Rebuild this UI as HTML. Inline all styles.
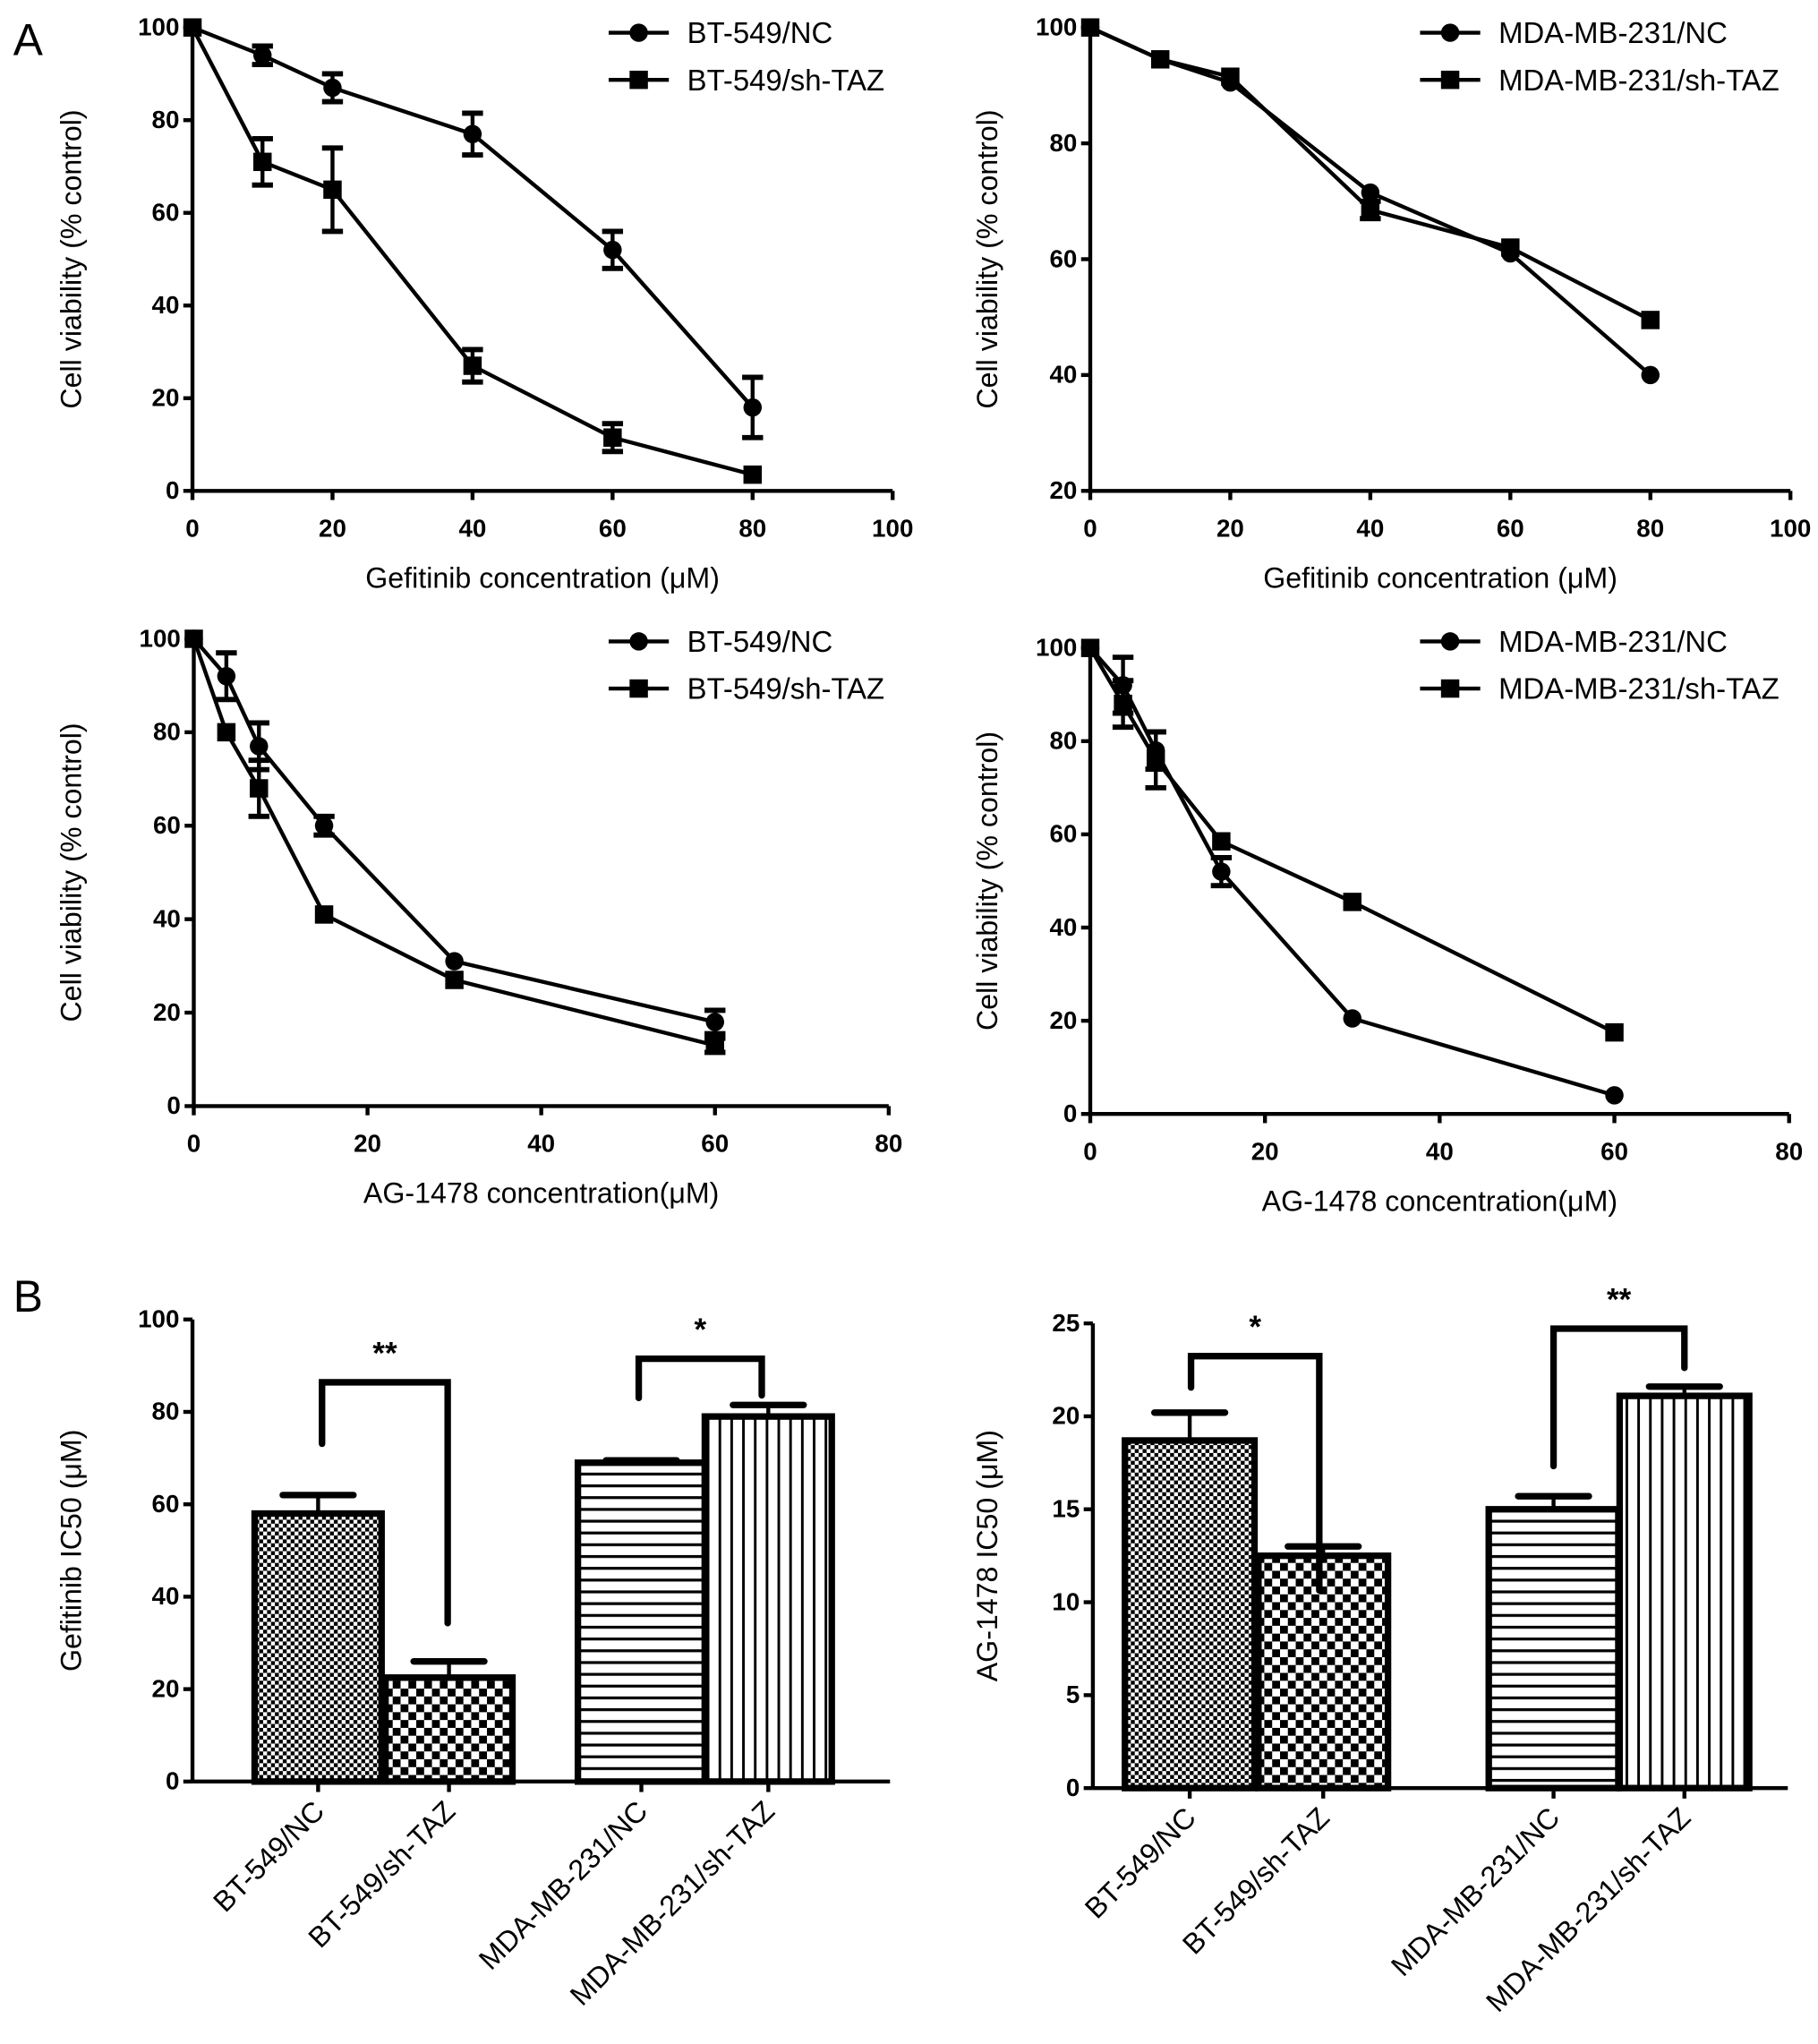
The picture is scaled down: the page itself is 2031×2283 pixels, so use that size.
<!DOCTYPE html>
<html><head><meta charset="utf-8"><style>
html,body{margin:0;padding:0;background:#fff}
svg{display:block}
text{font-family:"Liberation Sans",Arial,sans-serif;fill:#000}
.tk{font-weight:bold;font-size:19px}
.tt{font-size:22px}
.lg{font-size:22.5px}
</style></head><body>
<svg id="fig" width="2031" height="2283" viewBox="0 0 1389 1561.5" xmlns="http://www.w3.org/2000/svg">
<defs>
<pattern id="pCheckFine" width="6" height="6" patternUnits="userSpaceOnUse"><rect width="6" height="6" fill="#fff"/><rect width="3" height="3" fill="#000"/><rect x="3" y="3" width="3" height="3" fill="#000"/></pattern>
<pattern id="pCheck" width="12" height="12" patternUnits="userSpaceOnUse"><rect width="12" height="12" fill="#fff"/><rect width="6" height="6" fill="#000"/><rect x="6" y="6" width="6" height="6" fill="#000"/></pattern>
<pattern id="pHoriz" width="10" height="9" patternUnits="userSpaceOnUse"><rect width="10" height="9" fill="#fff"/><rect y="0" width="10" height="2.2" fill="#000"/></pattern>
<pattern id="pVert" width="9" height="10" patternUnits="userSpaceOnUse"><rect width="9" height="10" fill="#fff"/><rect x="0" width="2" height="10" fill="#000"/></pattern>
</defs>
<text x="10" y="42" font-size="34">A</text>
<text x="10" y="1002" font-size="34">B</text>
</svg>
<script>
// ---- data ----
const gefX = [0, 10, 20, 40, 60, 80];
const btNC_gef = [100, 94, 87, 77, 52, 18];
const btNC_gefErr = [0, 2, 3, 4.5, 4, 6.5];
const btSh_gef = [100, 71, 65, 27, 11.5, 3.5];
const btSh_gefErr = [0, 5, 9, 3.5, 3, 1];
const mdaNC_gef = [100, 94.5, 90.5, 71.5, 61, 40];
const mdaNC_gefErr = [0, 0.5, 0.5, 0.5, 0.5, 0.5];
const mdaSh_gef = [100, 94.5, 91.5, 68.5, 62, 49.5];
const mdaSh_gefErr = [0, 0.5, 0.5, 1.5, 0.5, 0.5];
const agX = [0, 3.75, 7.5, 15, 30, 60];
const btNC_ag = [100, 92, 77, 60, 31, 18];
const btNC_agErr = [0, 5, 5, 2, 1, 2.5];
const btSh_ag = [100, 80, 68, 41, 27, 13];
const btSh_agErr = [0, 0.5, 6, 0.5, 0.5, 1.5];
const mdaNC_ag = [100, 92, 78, 52, 20.5, 4];
const mdaNC_agErr = [0, 6, 4, 3, 0.5, 0.5];
const mdaSh_ag = [100, 88, 76, 58.5, 45.5, 17.5];
const mdaSh_agErr = [0, 5, 6, 0.5, 0.5, 0.5];
const barCats = ["BT-549/NC", "BT-549/sh-TAZ", "MDA-MB-231/NC", "MDA-MB-231/sh-TAZ"];
const gefIC50 = [58, 22.5, 69, 79];
const gefIC50Err = [4, 3.5, 0.5, 2.5];
const agIC50 = [18.7, 12.5, 15, 21.1];
const agIC50Err = [1.5, 0.5, 0.7, 0.5];
const ticks100 = [0, 20, 40, 60, 80, 100];
const ticks80 = [0, 20, 40, 60, 80];
const ticksTop2Y = [20, 40, 60, 80, 100];
const ticks25 = [0, 5, 10, 15, 20, 25];

const NS = "http://www.w3.org/2000/svg";
const svg = document.getElementById("fig");
function mk(tag, attrs, parent) {
  const e = document.createElementNS(NS, tag);
  for (const k in attrs) e.setAttribute(k, attrs[k]);
  (parent || svg).appendChild(e);
  return e;
}
function lin(d0, d1, r0, r1) { return v => r0 + (v - d0) * (r1 - r0) / (d1 - d0); }

function axes(g, P) {
  const ax = mk("line", {x1: P.x0, y1: P.y0, x2: P.x1, y2: P.y0, stroke: "#000", "stroke-width": 3}, g);
  
  
  const ay = mk("line", {x1: P.x0, y1: P.y0, x2: P.x0, y2: P.y1, stroke: "#000", "stroke-width": 3}, g);
  
  
  P.yt.forEach(v => {
    const y = P.sy(v);
    mk("line", {x1: P.x0 - 7, y1: y, x2: P.x0, y2: y, stroke: "#000", "stroke-width": 3}, g);
    const t = mk("text", {x: P.x0 - 10, y: y + 6, "text-anchor": "end", class: "tk"}, g);
    t.textContent = v;
    
    
  });
  if (P.xt) P.xt.forEach(v => {
    const x = P.sx(v);
    mk("line", {x1: x, y1: P.y0, x2: x, y2: P.y0 + 7, stroke: "#000", "stroke-width": 3}, g);
    const t = mk("text", {x: x, y: P.y0 + 35, "text-anchor": "middle", class: "tk"}, g);
    t.textContent = v;
    
    
  });
  const yt = mk("text", {x: 0, y: 0, "text-anchor": "middle", class: "tt", transform: `translate(${P.ytx},${(P.y0 + P.y1) / 2}) rotate(-90)`}, g);
  yt.textContent = P.ytitle;
  
  
  if (P.xtitle) {
    const xt = mk("text", {x: (P.x0 + P.x1) / 2, y: P.y0 + 74, "text-anchor": "middle", class: "tt"}, g);
    xt.textContent = P.xtitle;
    
    
  }
}
function marker(g, x, y, shape) {
  if (shape === "c") return mk("circle", {cx: x, cy: y, r: 7, fill: "#000"}, g);
  return mk("rect", {x: x - 7, y: y - 7, width: 14, height: 14, fill: "#000"}, g);
}
function series(g, P, xs, ys, es, shape, name) {
  const sg = mk("g", {}, g);
  
  
  const pts = xs.map((x, i) => P.sx(x) + "," + P.sy(ys[i])).join(" ");
  mk("polyline", {points: pts, fill: "none", stroke: "#000", "stroke-width": 3}, sg);
  xs.forEach((x, i) => {
    const cx = P.sx(x), hi = P.sy(ys[i] + es[i]), lo = P.sy(ys[i] - es[i]);
    if (es[i] > 1) {
      mk("line", {x1: cx, y1: hi, x2: cx, y2: lo, stroke: "#000", "stroke-width": 3}, sg);
      mk("line", {x1: cx - 8, y1: hi, x2: cx + 8, y2: hi, stroke: "#000", "stroke-width": 4}, sg);
      mk("line", {x1: cx - 8, y1: lo, x2: cx + 8, y2: lo, stroke: "#000", "stroke-width": 4}, sg);
    }
    const m = marker(sg, cx, P.sy(ys[i]), shape);
    
    
  });
}
function legend(g, lx, ly, labels) {
  labels.forEach((lab, i) => {
    const y = ly + i * 36;
    const lg = mk("g", {}, g);
    
    
    mk("line", {x1: lx, y1: y, x2: lx + 46, y2: y, stroke: "#000", "stroke-width": 3}, lg);
    marker(lg, lx + 23, y, i === 0 ? "c" : "s");
    const t = mk("text", {x: lx + 60, y: y + 8, class: "lg"}, lg);
    t.textContent = lab;
  });
}
function linePanel(name, P, sets, leg) {
  const g = mk("g", {});
  
  
  axes(g, P);
  sets.forEach(s => series(g, P, s[0], s[1], s[2], s[3], s[4]));
  legend(g, leg[0], leg[1], leg[2]);
}

linePanel("gefitinib-bt549-chart", {x0: 147, x1: 682, y0: 375, y1: 21, sx: lin(0, 100, 147, 682), sy: lin(0, 100, 375, 21), yt: ticks100, xt: ticks100, ytx: 62, ytitle: "Cell  viability (% control)", xtitle: "Gefitinib concentration (\u03bcM)"},
  [[gefX, btNC_gef, btNC_gefErr, "c", "bt549-nc-line"], [gefX, btSh_gef, btSh_gefErr, "s", "bt549-shtaz-line"]],
  [465, 25, ["BT-549/NC", "BT-549/sh-TAZ"]]);
linePanel("gefitinib-mda231-chart", {x0: 833, x1: 1368, y0: 375, y1: 21, sx: lin(0, 100, 833, 1368), sy: lin(20, 100, 375, 21), yt: ticksTop2Y, xt: ticks100, ytx: 762, ytitle: "Cell  viability (% control)", xtitle: "Gefitinib concentration (\u03bcM)"},
  [[gefX, mdaNC_gef, mdaNC_gefErr, "c", "mda231-nc-line"], [gefX, mdaSh_gef, mdaSh_gefErr, "s", "mda231-shtaz-line"]],
  [1085, 25, ["MDA-MB-231/NC", "MDA-MB-231/sh-TAZ"]]);
linePanel("ag1478-bt549-chart", {x0: 148, x1: 679, y0: 845, y1: 488, sx: lin(0, 80, 148, 679), sy: lin(0, 100, 845, 488), yt: ticks100, xt: ticks80, ytx: 62, ytitle: "Cell  viability (% control)", xtitle: "AG-1478 concentration(\u03bcM)"},
  [[agX, btNC_ag, btNC_agErr, "c", "bt549-nc-line"], [agX, btSh_ag, btSh_agErr, "s", "bt549-shtaz-line"]],
  [465, 490, ["BT-549/NC", "BT-549/sh-TAZ"]]);
linePanel("ag1478-mda231-chart", {x0: 833, x1: 1367, y0: 851, y1: 495, sx: lin(0, 80, 833, 1367), sy: lin(0, 100, 851, 495), yt: ticks100, xt: ticks80, ytx: 762, ytitle: "Cell  viability (% control)", xtitle: "AG-1478 concentration(\u03bcM)"},
  [[agX, mdaNC_ag, mdaNC_agErr, "c", "mda231-nc-line"], [agX, mdaSh_ag, mdaSh_agErr, "s", "mda231-shtaz-line"]],
  [1085, 490, ["MDA-MB-231/NC", "MDA-MB-231/sh-TAZ"]]);

const fills = ["url(#pCheckFine)", "url(#pCheck)", "url(#pHoriz)", "url(#pVert)"];
function barPanel(name, P, vals, errs, lefts, bw, brackets) {
  const g = mk("g", {});
  
  
  axes(g, P);
  vals.forEach((v, i) => {
    const x = lefts[i], y = P.sy(v), cx = x + bw / 2;
    const b = mk("rect", {x: x + 1.5, y: y, width: bw - 3, height: P.y0 - y, fill: fills[i], stroke: "#000", "stroke-width": 5}, g);
    
    
    const hi = P.sy(v + errs[i]);
    mk("line", {x1: cx, y1: hi, x2: cx, y2: y, stroke: "#000", "stroke-width": 3}, g);
    mk("line", {x1: cx - 27, y1: hi, x2: cx + 27, y2: hi, stroke: "#000", "stroke-width": 5, "stroke-linecap": "round"}, g);
    mk("line", {x1: cx, y1: P.y0, x2: cx, y2: P.y0 + 8, stroke: "#000", "stroke-width": 3}, g);
    const t = mk("text", {x: 0, y: 0, "text-anchor": "end", class: "tt", transform: `translate(${cx + 6},${P.y0 + 24}) rotate(-45)`}, g);
    t.textContent = barCats[i];
    
    
  });
  brackets.forEach(br => {
    const [xa, ya, xb, yb, ytop, star] = br;
    const p = mk("polyline", {points: `${xa},${ya} ${xa},${ytop} ${xb},${ytop} ${xb},${yb}`, fill: "none", stroke: "#000", "stroke-width": 5, "stroke-linecap": "round"}, g);
    
    
    const s = mk("text", {x: (xa + xb) / 2, y: ytop - 14, "text-anchor": "middle", "font-size": 24, "font-weight": "bold"}, g);
    s.textContent = star;
    
    
  });
}
barPanel("gefitinib-ic50-chart", {x0: 147, x1: 680, y0: 1361, y1: 1008, sx: null, sy: lin(0, 100, 1361, 1008), yt: ticks100, ytx: 62, ytitle: "Gefitinib IC50 (\u03bcM)"},
  gefIC50, gefIC50Err, [193, 293, 440, 537], 100,
  [[246, 1103, 342, 1240, 1056, "**"], [488, 1068, 582, 1066, 1038, "*"]]);
barPanel("ag1478-ic50-chart", {x0: 835, x1: 1366, y0: 1366, y1: 1011, sx: null, sy: lin(0, 25, 1366, 1011), yt: ticks25, ytx: 762, ytitle: "AG-1478 IC50 (\u03bcM)"},
  agIC50, agIC50Err, [858, 960, 1136, 1236], 102,
  [[910, 1060, 1008, 1215, 1036, "*"], [1187, 1120, 1287, 1045, 1015, "**"]]);
</script>
</body></html>
